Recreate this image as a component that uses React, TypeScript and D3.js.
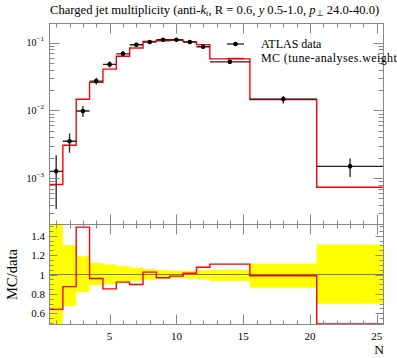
import React, { useEffect, useRef } from 'react';
import * as d3 from 'd3';

// bins (N) and values
const binEdges = [0.5, 1.5, 2.5, 3.5, 4.5, 5.5, 6.5, 7.5, 8.5, 9.5, 10.5, 11.5, 12.5, 15.5, 20.5, 25.5];
const nCenters = [1, 2, 3, 4, 5, 6, 7, 8, 9, 10, 11, 12, 14, 18, 23];
const dataValues = [1.26e-3, 3.5e-3, 9.8e-3, 2.71e-2, 4.79e-2, 6.87e-2, 9.34e-2, 0.1024, 0.1108, 0.1108, 0.1024, 0.0873, 0.0522, 0.0147, 1.49e-3];
const dataErrUp = [0.91e-3, 1.06e-3, 1.85e-3, 3.25e-3, 4.9e-3, 5.9e-3, 6.7e-3, 5.6e-3, 5.0e-3, 4.2e-3, 3.7e-3, 3.9e-3, 2.5e-3, 1.66e-3, 4.6e-4];
const dataErrDown = [0.91e-3, 1.14e-3, 1.78e-3, 2.98e-3, 4.8e-3, 5.4e-3, 6.2e-3, 5.6e-3, 5.0e-3, 4.0e-3, 4.4e-3, 4.5e-3, 3.6e-3, 2.01e-3, 4.5e-4];
const mcValues = [8.05e-4, 3.06e-3, 1.46e-2, 2.6e-2, 4.08e-2, 6.33e-2, 8.38e-2, 0.1049, 0.107, 0.1089, 0.1038, 0.0939, 0.0578, 0.0145, 7.3e-4];

const xTickLabels = [5, 10, 15, 20, 25];
const yDecades = [-3, -2, -1];
const ratioTickLabels = [0.6, 0.8, 1, 1.2, 1.4];
const legendLabels = ['ATLAS data', 'MC (tune-analyses.weights)'];

const App = () => {
  const svgRef = useRef<SVGSVGElement>(null);

  useEffect(() => {
    const svg = d3.select(svgRef.current);
    svg.selectAll('*').remove();

    const left = 49.5, right = 383.5, top = 23.5, mid = 224.5, bottom = 324.5;
    const frameColor = '#888';

    const x = d3.scaleLinear().domain([0.5, 25.5]).range([left, right]);
    const y = d3.scaleLog().domain([2.06e-4, 0.1925]).range([mid, top]);
    const r = d3.scaleLinear().domain([0.483, 1.517]).range([bottom, mid]);

    const defs = svg.append('defs');
    defs.append('clipPath').attr('id', 'clipTop')
      .append('rect').attr('x', left).attr('y', top).attr('width', right - left).attr('height', mid - top);
    defs.append('clipPath').attr('id', 'clipBot')
      .append('rect').attr('x', left).attr('y', mid).attr('width', right - left).attr('height', bottom - mid);

    // step line helper
    const stepPts = (vals: number[]) => {
      const pts = vals.map((v, i) => [binEdges[i], v] as [number, number]);
      pts.push([binEdges[binEdges.length - 1], vals[vals.length - 1]]);
      return pts;
    };

    //====== upper panel
    const gTop = svg.append('g').attr('clip-path', 'url(#clipTop)');
    const mcLine = d3.line<[number, number]>()
      .x((d) => x(d[0]))
      .y((d) => y(d[1]))
      .curve(d3.curveStepAfter);
    gTop.append('path')
      .datum(stepPts(mcValues))
      .attr('fill', 'none')
      .attr('stroke', '#ff0000')
      .attr('stroke-width', 1.4)
      .attr('d', mcLine);

    nCenters.forEach((n, i) => {
      const cx = x(n), cy = y(dataValues[i]);
      gTop.append('line')
        .attr('x1', x(binEdges[i])).attr('x2', x(binEdges[i + 1]))
        .attr('y1', cy).attr('y2', cy)
        .attr('stroke', '#222').attr('stroke-width', 1.3);
      gTop.append('line')
        .attr('x1', cx).attr('x2', cx)
        .attr('y1', y(dataValues[i] + dataErrUp[i]))
        .attr('y2', y(Math.max(dataValues[i] - dataErrDown[i], 1e-6)))
        .attr('stroke', '#222').attr('stroke-width', 1.3);
      gTop.append('circle')
        .attr('cx', cx).attr('cy', cy).attr('r', 2.3)
        .attr('fill', '#000');
    });

    //====== lower panel
    const gBot = svg.append('g').attr('clip-path', 'url(#clipBot)');
    dataValues.forEach((v, i) => {
      const hi = Math.min(1 + dataErrUp[i] / v, 1.6);
      const lo = Math.max(1 - dataErrDown[i] / v, 0.4);
      gBot.append('rect')
        .attr('x', x(binEdges[i])).attr('width', x(binEdges[i + 1]) - x(binEdges[i]))
        .attr('y', r(hi)).attr('height', r(lo) - r(hi))
        .attr('fill', '#ffff00');
    });
    gBot.append('line')
      .attr('x1', left).attr('x2', right)
      .attr('y1', r(1)).attr('y2', r(1))
      .attr('stroke', '#777').attr('stroke-width', 1);

    const ratioLine = d3.line<[number, number]>()
      .x((d) => x(d[0]))
      .y((d) => r(Math.max(d[1], 0.486)))
      .curve(d3.curveStepAfter);
    gBot.append('path')
      .datum(stepPts(mcValues.map((m, i) => m / dataValues[i])))
      .attr('fill', 'none')
      .attr('stroke', '#ff0000')
      .attr('stroke-width', 1.4)
      .attr('d', ratioLine);

    //====== frames and ticks
    [[top, mid], [mid, bottom]].forEach(([t, b]) => {
      svg.append('rect')
        .attr('x', left).attr('y', t).attr('width', right - left).attr('height', b - t)
        .attr('fill', 'none').attr('stroke', frameColor).attr('stroke-width', 1);
      d3.range(1, 26).forEach((n) => {
        const len = n % 5 === 0 ? 10 : 4;
        const px = Math.round(x(n)) + 0.5;
        svg.append('line').attr('x1', px).attr('x2', px).attr('y1', t).attr('y2', t + len)
          .attr('stroke', frameColor);
        svg.append('line').attr('x1', px).attr('x2', px).attr('y1', b).attr('y2', b - len)
          .attr('stroke', frameColor);
      });
    });

    // log ticks
    const logTicks: { v: number; major: boolean }[] = [];
    [-4, -3, -2, -1].forEach((k) => {
      d3.range(1, 10).forEach((m) => logTicks.push({ v: m * Math.pow(10, k), major: m === 1 }));
    });
    logTicks
      .filter((t) => t.v >= 2.06e-4 && t.v <= 0.1925)
      .forEach((t) => {
        const py = Math.round(y(t.v)) + 0.5;
        const len = t.major ? 10 : 5;
        svg.append('line').attr('x1', left).attr('x2', left + len).attr('y1', py).attr('y2', py).attr('stroke', frameColor);
        svg.append('line').attr('x1', right).attr('x2', right - len).attr('y1', py).attr('y2', py).attr('stroke', frameColor);
      });

    // ratio ticks
    d3.range(10, 31).map((k) => k * 0.05).forEach((v) => {
      const major = ratioTickLabels.some((l) => Math.abs(l - v) < 1e-6);
      const py = Math.round(r(v)) + 0.5;
      const len = major ? 8 : 4;
      svg.append('line').attr('x1', left).attr('x2', left + len).attr('y1', py).attr('y2', py).attr('stroke', frameColor);
      svg.append('line').attr('x1', right).attr('x2', right - len).attr('y1', py).attr('y2', py).attr('stroke', frameColor);
    });

    //====== labels
    yDecades.forEach((k) => {
      const t = svg.append('text')
        .attr('x', 44).attr('y', y(Math.pow(10, k)) + 3.5)
        .attr('text-anchor', 'end')
        .attr('font-size', 10)
        .attr('fill', '#000');
      t.append('tspan').text('10');
      t.append('tspan').attr('font-size', 7).attr('dy', -5).text(`\u2212${-k}`);
    });

    ratioTickLabels.forEach((v) => {
      svg.append('text')
        .attr('x', 45).attr('y', r(v) + 4)
        .attr('text-anchor', 'end')
        .attr('font-size', 11)
        .text(`${v}`);
    });

    xTickLabels.forEach((v) => {
      svg.append('text')
        .attr('x', x(v)).attr('y', 340)
        .attr('text-anchor', 'middle')
        .attr('font-size', 11)
        .text(`${v}`);
    });

    svg.append('text')
      .attr('x', right + 0.5).attr('y', 354)
      .attr('text-anchor', 'end')
      .attr('font-size', 13.5)
      .text('N');

    svg.append('text')
      .attr('transform', `translate(17,${r(1)}) rotate(-90)`)
      .attr('text-anchor', 'middle')
      .attr('font-size', 14.5)
      .text('MC/data');

    // title
    const title = svg.append('text')
      .attr('x', 50).attr('y', 14)
      .attr('font-size', 12.6);
    title.append('tspan').text('Charged jet multiplicity (anti-');
    title.append('tspan').attr('font-style', 'italic').text('k');
    title.append('tspan').attr('font-style', 'italic').attr('font-size', 8.5).attr('dy', 2).text('t');
    title.append('tspan').attr('dy', -2).text(', R = 0.6, ');
    title.append('tspan').attr('font-style', 'italic').text('y');
    title.append('tspan').text(' 0.5-1.0, ');
    title.append('tspan').attr('font-style', 'italic').text('p');
    title.append('tspan').attr('font-size', 8.5).attr('dy', 2).text('\u22A5');
    title.append('tspan').attr('dy', -2).text(' 24.0-40.0)');

    // legend
    const legY = [44, 58.5];
    svg.append('line').attr('x1', 227).attr('x2', 244).attr('y1', legY[0]).attr('y2', legY[0])
      .attr('stroke', '#222').attr('stroke-width', 1.3);
    svg.append('circle').attr('cx', 235.5).attr('cy', legY[0]).attr('r', 2.3).attr('fill', '#000');
    svg.append('line').attr('x1', 227).attr('x2', 244).attr('y1', legY[1]).attr('y2', legY[1])
      .attr('stroke', '#ff0000').attr('stroke-width', 1.4);
    legendLabels.forEach((l, i) => {
      svg.append('text')
        .attr('x', 261).attr('y', legY[i] + 3.8)
        .attr('font-size', 12)
        .attr('letter-spacing', i === 1 ? 0.4 : 0)
        .text(l);
    });
  }, []);

  return (
    <svg
      ref={svgRef}
      width={397}
      height={358}
      style={{ position: 'absolute', left: 0, top: 0, fontFamily: '"Liberation Serif", serif', background: '#fff' }}
    />
  );
};

export default App;
